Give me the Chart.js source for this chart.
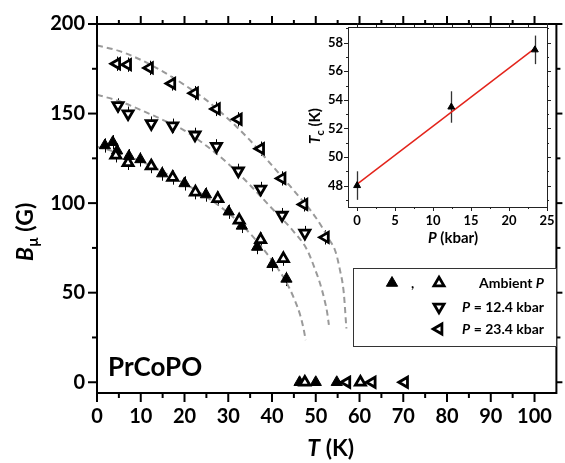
<!DOCTYPE html>
<html>
<head>
<meta charset="utf-8">
<script src="https://cdn.jsdelivr.net/npm/chart.js@4.4.1/dist/chart.umd.min.js"></script>
<style>
  html, body { margin: 0; padding: 0; background: #fff; }
  #wrap { position: relative; width: 565px; height: 463px; }
  #main { position: absolute; left: 0; top: 0; }
  #inset { position: absolute; left: 290px; top: 0; }
</style>
</head>
<body>
<div id="wrap">
  <canvas id="main" width="565" height="463"></canvas>
  <canvas id="inset" width="275" height="250"></canvas>
</div>
<script>
// ---- main panel data: B_mu (G) vs T (K) ----
const ambFilledT = [1.8, 3.6, 4.6, 7.3, 9.9, 14.9, 20.0, 24.9, 30.1, 33.1, 36.6, 40.1, 43.3, 46.3, 50.0, 54.8];
const ambFilledB = [132.2, 134.0, 129.3, 126.2, 124.4, 116.5, 111.0, 104.8, 95.2, 87.3, 75.5, 65.9, 57.7, 0, 0, 0];
const ambOpenT = [4.3, 7.1, 12.4, 17.3, 22.5, 27.6, 32.5, 37.4, 42.6, 47.5, 60.2];
const ambOpenB = [126.7, 122.5, 120.7, 114.3, 106.1, 102.5, 90.5, 79.6, 69.0, 0, 0];
const p12T = [4.8, 7.1, 12.4, 17.3, 22.4, 27.3, 32.3, 37.4, 42.3, 47.5];
const p12B = [154.5, 149.9, 144.4, 143.2, 138.1, 131.7, 118.0, 107.9, 93.3, 83.3];
const p23T = [4.5, 7.0, 12.0, 17.1, 22.3, 27.3, 32.3, 37.4, 42.3, 47.3, 52.2, 57.1, 62.9, 70.3];
const p23B = [177.8, 177.3, 175.5, 166.8, 161.4, 152.6, 146.8, 130.4, 113.8, 99.3, 80.9, 0, 0, 0];

// dashed guide curves
const ambFitT = [0, 5, 10, 15, 20, 25, 30, 35, 40, 43, 45, 46.5, 47.2, 47.7];
const ambFitB = [131.5, 128, 123.5, 117.5, 111, 103.5, 94.5, 83, 68, 57, 47, 37, 30, 23.5];
const p12FitT = [0, 5, 10, 15, 20, 25, 30, 35, 40, 45, 48, 50, 51, 52, 52.6, 53];
const p12FitB = [160.5, 157, 152, 146.5, 140.5, 132, 122, 110, 97, 84, 74, 62, 55, 46, 39, 32];
const p23FitT = [0, 5, 10, 15, 20, 25, 30, 35, 40, 45, 50, 53, 54.5, 55.5, 56.4, 57];
const p23FitB = [188, 185, 180, 173.5, 166, 157.5, 147, 135, 121, 107, 92, 80, 73, 63, 50, 30];

const xTicks = [0, 10, 20, 30, 40, 50, 60, 70, 80, 90, 100];
const xMinor = [5, 15, 25, 35, 45, 55, 65, 75, 85, 95];
const yTicks = [0, 50, 100, 150, 200];
const yMinor = [25, 75, 125, 175];

// ---- inset data: Tc (K) vs P (kbar) ----
const insetP = [0, 12.4, 23.4];
const insetTc = [48.0, 53.5, 57.5];
const insetErr = [1.0, 1.1, 1.0];
const fitP = [0, 23.4];
const fitTc = [48.1, 57.6];
const insetXTicks = [0, 5, 10, 15, 20, 25];
const insetXMinor = [2.5, 7.5, 12.5, 17.5, 22.5];
const insetYTicks = [48, 50, 52, 54, 56, 58];
const insetYMinor = [47, 49, 51, 53, 55, 57, 59];

const FONT = 'Lato';

function pts(xs, ys) {
  return xs.map((x, i) => ({ x: x, y: ys[i] }));
}

function markerSet(xs, ys, rotation, filled, err, radius) {
  return {
    data: pts(xs, ys),
    showLine: false,
    pointStyle: 'triangle',
    pointRotation: rotation,
    pointRadius: radius,
    pointHoverRadius: radius,
    pointBackgroundColor: filled ? '#000' : '#fff',
    pointBorderColor: '#000',
    pointBorderWidth: filled ? 1 : 2.8,
    errBar: err,
    order: 1
  };
}

function curveSet(xs, ys) {
  return {
    data: pts(xs, ys),
    showLine: true,
    pointRadius: 0,
    borderColor: '#9a9a9a',
    borderWidth: 2,
    borderDash: [6, 4],
    cubicInterpolationMode: 'monotone',
    order: 2
  };
}

function line(ctx, x1, y1, x2, y2) {
  ctx.beginPath();
  ctx.moveTo(x1, y1);
  ctx.lineTo(x2, y2);
  ctx.stroke();
}

// draw text made of pieces (italic, subscript...) starting at x
function drawRich(ctx, parts, x, y, align) {
  let total = 0;
  parts.forEach(p => { ctx.font = p.font; total += ctx.measureText(p.t).width; });
  let cx = align === 'center' ? x - total / 2 : align === 'right' ? x - total : x;
  ctx.textAlign = 'left';
  ctx.textBaseline = 'alphabetic';
  parts.forEach(p => {
    ctx.font = p.font;
    ctx.fillText(p.t, cx, y + (p.dy || 0));
    cx += ctx.measureText(p.t).width;
  });
}

const errorBars = {
  id: 'errorBars',
  beforeDatasetsDraw(chart) {
    const ctx = chart.ctx;
    const sx = chart.scales.x, sy = chart.scales.y;
    chart.data.datasets.forEach(ds => {
      if (!ds.errBar) return;
      ctx.save();
      ctx.strokeStyle = ds.errColor || '#000';
      ctx.lineWidth = ds.errWidth || 1;
      ds.data.forEach((p, j) => {
        const e = Array.isArray(ds.errBar) ? ds.errBar[j] : ds.errBar;
        if (!e || p.y === 0) return;
        const px = Math.round(sx.getPixelForValue(p.x)) + 0.5;
        line(ctx, px, sy.getPixelForValue(p.y - e), px, sy.getPixelForValue(p.y + e));
      });
      ctx.restore();
    });
  }
};

const mainFrame = {
  id: 'mainFrame',
  afterDraw(chart) {
    const ctx = chart.ctx;
    const a = chart.chartArea;
    const sx = chart.scales.x, sy = chart.scales.y;
    ctx.save();
    ctx.strokeStyle = '#000';
    ctx.lineWidth = 2;
    ctx.strokeRect(a.left, a.top, a.right - a.left, a.bottom - a.top);
    xTicks.forEach(v => {
      const p = sx.getPixelForValue(v);
      line(ctx, p, a.bottom, p, a.bottom + 9);
      line(ctx, p, a.top, p, a.top - 8);
    });
    xMinor.forEach(v => {
      const p = sx.getPixelForValue(v);
      line(ctx, p, a.bottom, p, a.bottom + 5);
      line(ctx, p, a.top, p, a.top - 4);
    });
    yTicks.forEach(v => {
      const p = sy.getPixelForValue(v);
      line(ctx, a.left - 9, p, a.left, p);
      line(ctx, a.right, p, a.right + 6, p);
    });
    yMinor.forEach(v => {
      const p = sy.getPixelForValue(v);
      line(ctx, a.left - 5, p, a.left, p);
      line(ctx, a.right, p, a.right + 4, p);
    });

    ctx.fillStyle = '#000';
    // axis titles
    drawRich(ctx, [
      { t: 'T', font: 'italic bold 23px ' + FONT },
      { t: ' (K)', font: 'bold 23px ' + FONT }
    ], (a.left + a.right) / 2 + 4, 456, 'center');
    ctx.save();
    ctx.translate(33, 232);
    ctx.rotate(-Math.PI / 2);
    drawRich(ctx, [
      { t: 'B', font: 'italic bold 23px ' + FONT },
      { t: '\u00B5', font: 'bold 15px ' + FONT, dy: 5 },
      { t: ' (G)', font: 'bold 23px ' + FONT }
    ], 0, 0, 'center');
    ctx.restore();

    // sample name
    ctx.font = 'bold 26px ' + FONT;
    ctx.textAlign = 'left';
    ctx.fillText('PrCoPO', 108, 376);

    // legend box
    ctx.fillStyle = '#fff';
    ctx.fillRect(353, 268, 203, 78);
    ctx.strokeStyle = '#333';
    ctx.lineWidth = 1;
    ctx.strokeRect(353.5, 268.5, 203, 78);
    const mk = (x, y, rot, filled) => {
      ctx.fillStyle = filled ? '#000' : '#fff';
      ctx.strokeStyle = '#000';
      ctx.lineWidth = filled ? 1 : 2.8;
      Chart.helpers.drawPoint(ctx, { pointStyle: 'triangle', radius: filled ? 6.5 : 5.8, rotation: rot, borderWidth: ctx.lineWidth }, x, y);
    };
    mk(392, 283, 0, true);
    mk(439, 283, 0, false);
    mk(439, 307, 180, false);
    mk(439, 329, 270, false);
    ctx.fillStyle = '#000';
    ctx.font = 'bold 14px ' + FONT;
    ctx.fillText(',', 411, 288);
    drawRich(ctx, [
      { t: 'Ambient ', font: 'bold 14px ' + FONT },
      { t: 'P', font: 'italic bold 14px ' + FONT }
    ], 544, 288, 'right');
    drawRich(ctx, [
      { t: 'P', font: 'italic bold 14px ' + FONT },
      { t: ' = 12.4 kbar', font: 'bold 14px ' + FONT }
    ], 544, 312, 'right');
    drawRich(ctx, [
      { t: 'P', font: 'italic bold 14px ' + FONT },
      { t: ' = 23.4 kbar', font: 'bold 14px ' + FONT }
    ], 544, 334, 'right');
    ctx.restore();
  }
};

const tickFont = { family: FONT, size: 20, weight: 'bold' };

new Chart(document.getElementById('main'), {
  type: 'scatter',
  data: {
    datasets: [
      curveSet(ambFitT, ambFitB),
      curveSet(p12FitT, p12FitB),
      curveSet(p23FitT, p23FitB),
      markerSet(ambOpenT, ambOpenB, 0, false, 4, 5.8),
      markerSet(ambFilledT, ambFilledB, 0, true, 4, 6.5),
      markerSet(p12T, p12B, 180, false, 4, 5.8),
      markerSet(p23T, p23B, 270, false, 4, 5.8)
    ]
  },
  options: {
    responsive: false,
    animation: false,
    devicePixelRatio: 1,
    layout: { padding: { top: 16, right: 7, left: 0, bottom: 0 } },
    plugins: { legend: { display: false }, tooltip: { enabled: false } },
    scales: {
      x: {
        type: 'linear', min: 0, max: 105,
        afterBuildTicks: s => { s.ticks = xTicks.map(v => ({ value: v })); },
        afterFit: s => { s.height = 70; },
        grid: { display: false, drawTicks: false },
        border: { display: false },
        ticks: { padding: 12, font: tickFont, color: '#000', autoSkip: false, maxRotation: 0 }
      },
      y: {
        type: 'linear', min: -6, max: 200,
        afterBuildTicks: s => { s.ticks = yTicks.map(v => ({ value: v })); },
        afterFit: s => { s.width = 97; },
        grid: { display: false, drawTicks: false },
        border: { display: false },
        ticks: { padding: 12, font: tickFont, color: '#000', autoSkip: false }
      }
    }
  },
  plugins: [errorBars, mainFrame]
});

// ---- inset ----
const insetFrame = {
  id: 'insetFrame',
  afterDraw(chart) {
    const ctx = chart.ctx;
    const a = chart.chartArea;
    const sx = chart.scales.x, sy = chart.scales.y;
    ctx.save();
    ctx.strokeStyle = '#222';
    ctx.lineWidth = 1;
    ctx.strokeRect(Math.round(a.left) + 0.5, Math.round(a.top) + 0.5, Math.round(a.right - a.left), Math.round(a.bottom - a.top));
    insetXTicks.forEach(v => {
      const p = Math.round(sx.getPixelForValue(v)) + 0.5;
      line(ctx, p, a.bottom, p, a.bottom + 4);
      line(ctx, p, a.top, p, a.top - 4);
    });
    insetXMinor.forEach(v => {
      const p = Math.round(sx.getPixelForValue(v)) + 0.5;
      line(ctx, p, a.bottom, p, a.bottom + 2);
      line(ctx, p, a.top, p, a.top - 2);
    });
    insetYTicks.forEach(v => {
      const p = Math.round(sy.getPixelForValue(v)) + 0.5;
      line(ctx, a.left - 4, p, a.left, p);
      line(ctx, a.right, p, a.right + 4, p);
    });
    insetYMinor.forEach(v => {
      const p = Math.round(sy.getPixelForValue(v)) + 0.5;
      line(ctx, a.left - 2, p, a.left, p);
      line(ctx, a.right, p, a.right + 2, p);
    });
    ctx.fillStyle = '#000';
    drawRich(ctx, [
      { t: 'P', font: 'italic bold 15px ' + FONT },
      { t: ' (kbar)', font: 'bold 15px ' + FONT }
    ], 163, 243, 'center');
    ctx.save();
    ctx.translate(30, 126);
    ctx.rotate(-Math.PI / 2);
    drawRich(ctx, [
      { t: 'T', font: 'italic bold 15px ' + FONT },
      { t: 'c', font: 'bold 11px ' + FONT, dy: 4 },
      { t: ' (K)', font: 'bold 15px ' + FONT }
    ], 0, 0, 'center');
    ctx.restore();
    ctx.restore();
  }
};

const insetFont = { family: FONT, size: 13, weight: 'bold' };

new Chart(document.getElementById('inset'), {
  type: 'scatter',
  data: {
    datasets: [
      {
        data: pts(fitP, fitTc),
        showLine: true,
        pointRadius: 0,
        borderColor: '#e3241b',
        borderWidth: 1.5,
        order: 2
      },
      Object.assign(markerSet(insetP, insetTc, 0, true, insetErr, 4), { errColor: '#333', errWidth: 1.3 })
    ]
  },
  options: {
    responsive: false,
    animation: false,
    devicePixelRatio: 1,
    layout: { padding: { top: 27, right: 18, left: 0, bottom: 0 } },
    plugins: { legend: { display: false }, tooltip: { enabled: false } },
    scales: {
      x: {
        type: 'linear', min: -1.2, max: 25,
        afterBuildTicks: s => { s.ticks = insetXTicks.map(v => ({ value: v })); },
        afterFit: s => { s.height = 43; },
        grid: { display: false, drawTicks: false },
        border: { display: false },
        ticks: { padding: 6, font: insetFont, color: '#000', autoSkip: false, maxRotation: 0 }
      },
      y: {
        type: 'linear', min: 46.5, max: 59.1,
        afterBuildTicks: s => { s.ticks = insetYTicks.map(v => ({ value: v })); },
        afterFit: s => { s.width = 58; },
        grid: { display: false, drawTicks: false },
        border: { display: false },
        ticks: { padding: 5, font: insetFont, color: '#000', autoSkip: false }
      }
    }
  },
  plugins: [errorBars, insetFrame]
});
</script>
</body>
</html>
